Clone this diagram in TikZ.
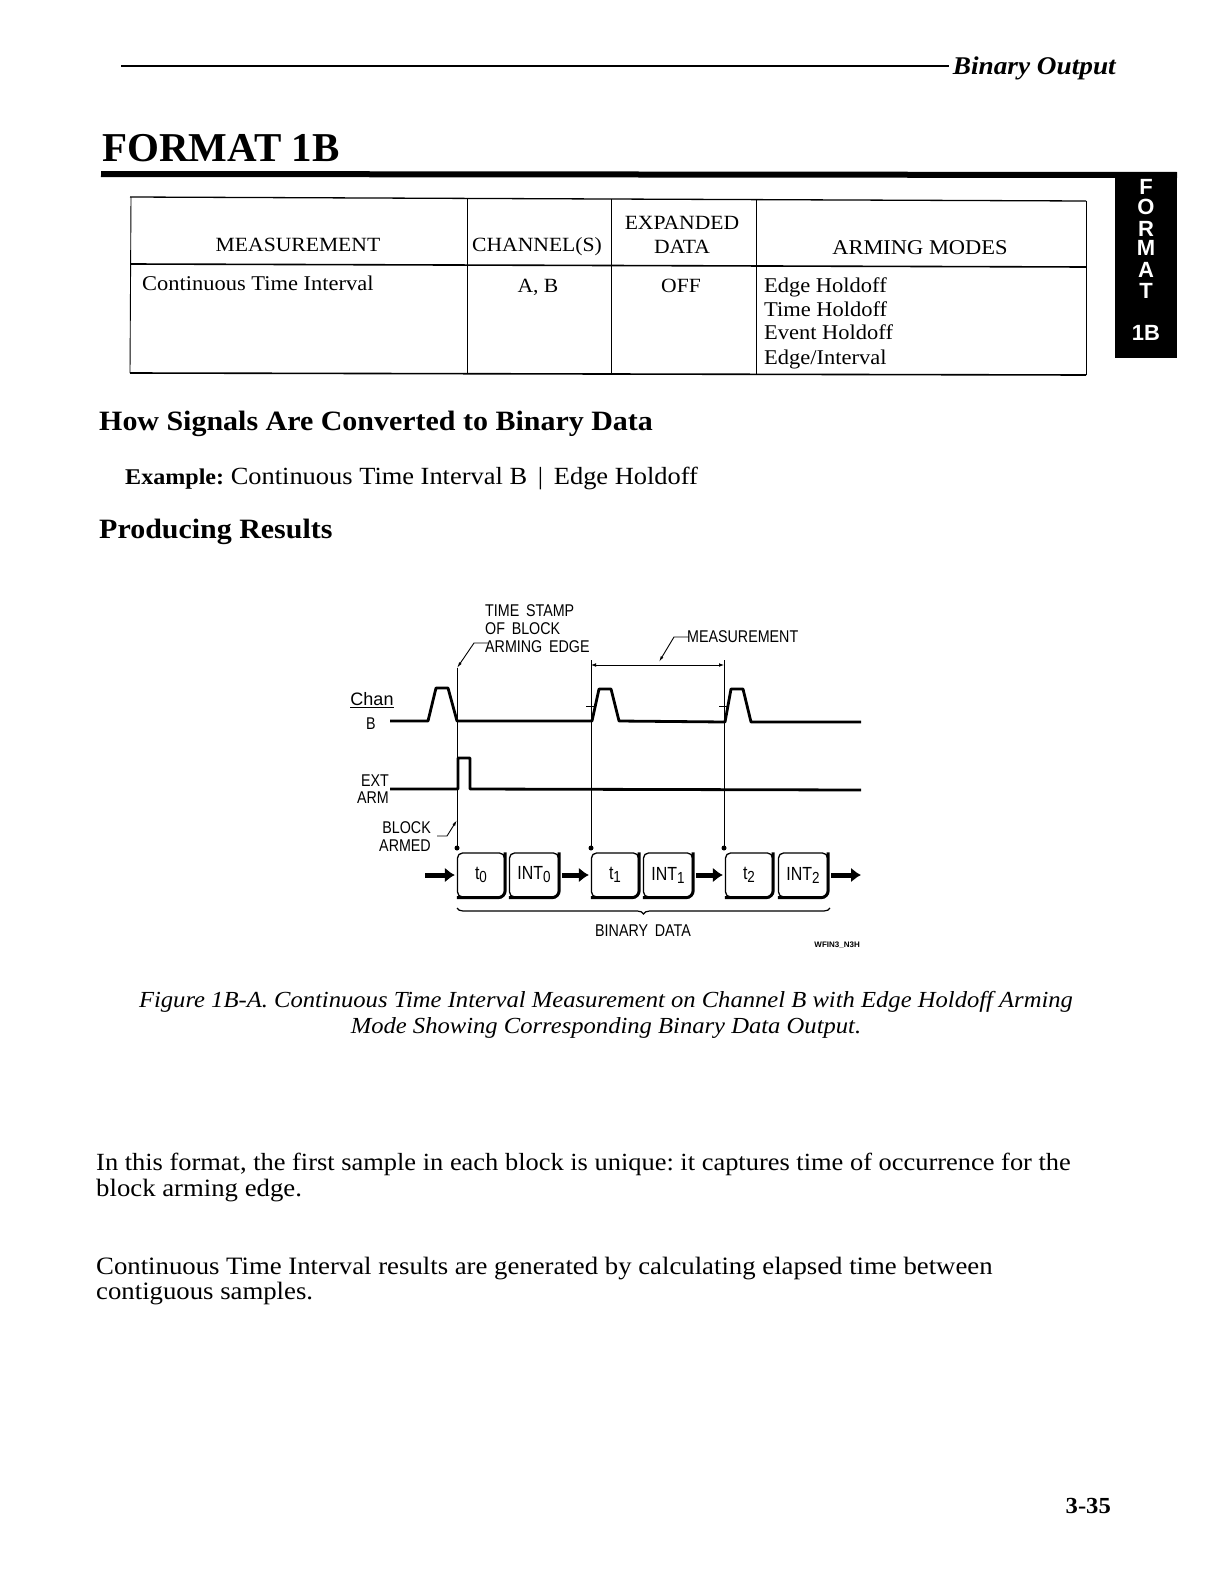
\documentclass[tikz,border=0pt]{standalone}
\usepackage{fontspec}
\usetikzlibrary{arrows.meta, decorations.pathreplacing}
\setmainfont[FakeStretch=1.07]{Liberation Serif}
\setsansfont{Liberation Sans}
\newfontfamily\titlefont{Liberation Serif}
\newfontfamily\wavefont[FakeStretch=0.84, WordSpace=1.7]{Liberation Sans}
\newcommand{\subn}[1]{{\fontsize{16}{16}\selectfont\raisebox{-3pt}{#1}}}
\frenchspacing
\tikzset{
    bodytext/.style={anchor=base west, inner sep=0pt, font=\fontsize{25}{30}\selectfont},
    headtext/.style={anchor=base west, inner sep=0pt, font=\fontsize{28}{32}\selectfont\bfseries},
    captext/.style={anchor=base, inner sep=0pt, font=\fontsize{23}{30}\selectfont\itshape},
    celltext/.style={anchor=base, inner sep=0pt, font=\fontsize{20.2}{25}\selectfont},
    celltextl/.style={anchor=base west, inner sep=0pt, font=\fontsize{21}{25}\selectfont},
    tabtext/.style={anchor=center, inner sep=0pt, text=white, font=\fontsize{22}{24}\selectfont\sffamily\bfseries},
    wavetext/.style={inner sep=0pt, font=\fontsize{17}{20}\selectfont\wavefont},
    wave/.style={line width=2.8pt, line join=round},
    thinline/.style={line width=0.9pt},
    leader/.style={line width=0.9pt, -{Latex[length=6pt,width=3pt]}},
    wordbox/.style={draw, line width=1.3pt, rounded corners=5pt, minimum height=44pt, inner sep=0pt, font=\fontsize{19}{22}\selectfont\wavefont},
    flow/.style={line width=5pt, -{Latex[length=10pt,width=15pt]}}
}
\begin{document}
\begin{tikzpicture}[x=1pt, y=-1pt]
        \useasboundingbox (0,0) rectangle (1224,1584);
        \draw[line width=1.2pt] (121,66) -- (949,66);
        \node[anchor=base east, inner sep=0pt, font=\fontsize{25.5}{30}\selectfont\bfseries\itshape] (runhead) at (1116,75) {Binary Output};
        \node[anchor=base west, inner sep=0pt, font=\fontsize{41}{50}\selectfont\titlefont\bfseries] (title) at (102,161) {FORMAT 1B};
        \draw[line width=6pt] (101,174) -- (1177,175);
        \fill (1115,174) rectangle (1177,358);
        \node[tabtext] (tabf) at (1146,187) {F};
        \node[tabtext] (tabo) at (1146,207) {O};
        \node[tabtext] (tabr) at (1146,229) {R};
        \node[tabtext] (tabm) at (1146,248) {M};
        \node[tabtext] (taba) at (1146,270) {A};
        \node[tabtext] (tabt) at (1146,291) {T};
        \node[tabtext] (tabb) at (1146,333) {1B};

        \draw[line width=1.3pt] (130,197) -- (1086,201);
        \draw[line width=1.6pt] (131,264) -- (1086,267);
        \draw[line width=1.6pt] (130,373) -- (1086,375);
        \draw[thinline] (131,197) -- (130,373);
        \draw[thinline] (467,199) -- (467,373);
        \draw[thinline] (611,199) -- (611,374);
        \draw[thinline] (756,200) -- (756,375);
        \draw[thinline] (1086,201) -- (1086,375);
        \node[celltext] (hmeas) at (298,251) {MEASUREMENT};
        \node[celltext] (hchan) at (537,251) {CHANNEL(S)};
        \node[celltext] (hexpa) at (682,229) {EXPANDED};
        \node[celltext] (hdata) at (682,253) {DATA};
        \node[celltext, font=\fontsize{21}{25}\selectfont] (harm) at (920,254) {ARMING MODES};
        \node[celltextl] (cmeas) at (142,290) {Continuous Time Interval};
        \node[celltext] (cchan) at (538,292) {A, B};
        \node[celltext] (cexpa) at (681,292) {OFF};
        \node[celltextl] (marm1) at (764,292) {Edge Holdoff};
        \node[celltextl] (marm2) at (764,316) {Time Holdoff};
        \node[celltextl] (marm3) at (764,339) {Event Holdoff};
        \node[celltextl] (marm4) at (764,364) {Edge/Interval};

        \node[headtext] (how) at (99,430) {How Signals Are Converted to Binary Data};
        \node[bodytext, font=\fontsize{24.7}{30}\selectfont] (example) at (125,484) {{\fontsize{22.5}{30}\selectfont\bfseries Example:} Continuous Time Interval B \,|\, Edge Holdoff};
        \node[headtext] (producing) at (99,538) {Producing Results};

        \draw[wave] (390,721) -- (428,721) -- (436,688) -- (448,688) -- (457,721) -- (592,721) -- (599,689) -- (611,689) -- (619,721) -- (725,722) -- (731,689) -- (743,689) -- (751,722) -- (861,722);
        \draw[wave] (390,789) -- (458,789) -- (458,758) -- (470,758) -- (470,789) -- (861,790);
        \draw[thinline] (457,668) -- (457,848);
        \draw[thinline] (591,660) -- (591,848);
        \draw[thinline] (724,660) -- (724,848);
        \draw[thinline] (586,706) -- (596,706);
        \draw[thinline] (719,706) -- (729,706);
        \draw[thinline, {Latex[length=5pt]}-{Latex[length=5pt]}] (591,665) -- (724,665);
        \draw[leader] (489,643) -- (474,643) -- (457,668);
        \draw[leader] (689,637) -- (674,637) -- (659,662);
        \draw[leader] (437,836) -- (447,836) -- (457,820);
        \fill (457,848) circle (2.5pt);
        \fill (591,848) circle (2.5pt);
        \fill (724,848) circle (2.5pt);
        \node[wavetext, anchor=west] (stamp1) at (485,611) {TIME STAMP};
        \node[wavetext, anchor=west] (stamp2) at (485,629) {OF BLOCK};
        \node[wavetext, anchor=west] (stamp3) at (485,647) {ARMING EDGE};
        \node[wavetext, anchor=west] (meas) at (687,637) {MEASUREMENT};
        \node[wavetext, font=\fontsize{18}{20}\selectfont\sffamily] (chan) at (372,700) {\underline{Chan}};
        \node[wavetext] (chanb) at (371,724) {B};
        \node[wavetext, anchor=east] (ext) at (389,781) {EXT};
        \node[wavetext, anchor=east] (arm) at (389,798) {ARM};
        \node[wavetext, anchor=east] (block) at (431,828) {BLOCK};
        \node[wavetext, anchor=east] (armed) at (431,846) {ARMED};

        \node[wordbox, minimum width=47pt] (t0) at (481,875) {t\subn{0}};
        \node[wordbox, minimum width=49pt] (int0) at (534,875) {INT\subn{0}};
        \node[wordbox, minimum width=47pt] (t1) at (615,875) {t\subn{1}};
        \node[wordbox, minimum width=49pt] (int1) at (668,875) {INT\subn{1}};
        \node[wordbox, minimum width=47pt] (t2) at (749,875) {t\subn{2}};
        \node[wordbox, minimum width=49pt] (int2) at (803,875) {INT\subn{2}};
        \foreach \n in {t0,int0,t1,int1,t2,int2}
            \draw[line width=3pt, rounded corners=7pt] (\n.north east) -- (\n.south east) -- (\n.south west);
        \coordinate (flowin) at (425,875);
        \coordinate (flowout) at (861,875);
        \draw[flow] (flowin) -- ([xshift=-2pt]t0.west);
        \draw[flow] ([xshift=3pt]int0.east) -- ([xshift=-2pt]t1.west);
        \draw[flow] ([xshift=3pt]int1.east) -- ([xshift=-2pt]t2.west);
        \draw[flow] ([xshift=3pt]int2.east) -- (flowout);
        \draw[line width=1.2pt, decorate, decoration={brace, mirror, amplitude=6pt}] (457,908) -- (830,908);
        \node[wavetext] (binary) at (643,931) {BINARY DATA};
        \node[anchor=east, inner sep=0pt, font=\fontsize{8}{9}\selectfont\sffamily\bfseries] (wfin) at (860,945) {WFIN3\_N3H};

        \node[captext] (cap1) at (606,1007) {Figure 1B-A. Continuous Time Interval Measurement on Channel B with Edge Holdoff Arming};
        \node[captext] (cap2) at (606,1033) {Mode Showing Corresponding Binary Data Output.};
        \node[bodytext, font=\fontsize{24.7}{30}\selectfont] (para1) at (96,1170) {In this format, the first sample in each block is unique: it captures time of occurrence for the};
        \node[bodytext] (para2) at (96,1196) {block arming edge.};
        \node[bodytext] (para3) at (96,1274) {Continuous Time Interval results are generated by calculating elapsed time between};
        \node[bodytext] (para4) at (96,1299) {contiguous samples.};
        \node[anchor=base east, inner sep=0pt, font=\fontsize{23}{27}\selectfont\bfseries] (pageno) at (1111,1513) {3-35};
    \end{tikzpicture}
\end{document}
